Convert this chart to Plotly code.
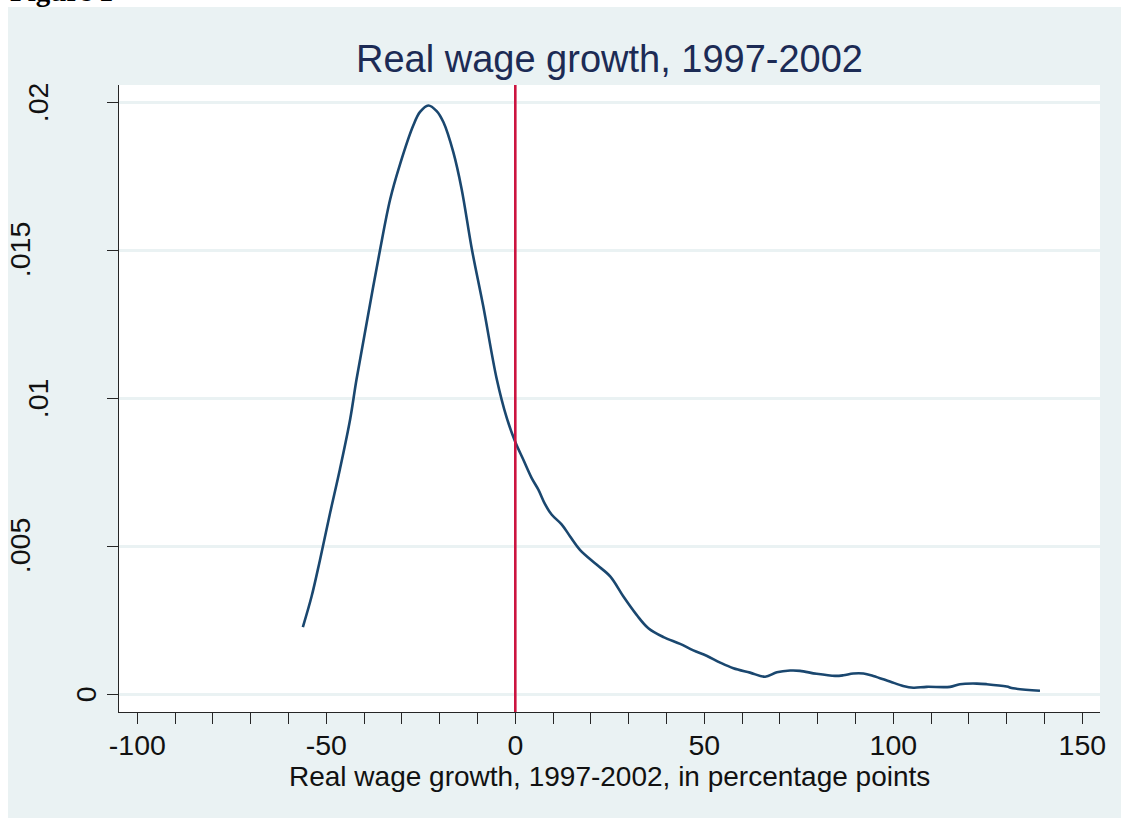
import plotly.graph_objects as go

# ---- data ----
growth = [-56.2, -53.9, -51.7, -49.0, -46.4, -43.7, -42.0, -39.3, -35.8, -33.1,
          -30.5, -27.0, -25.2, -23.0, -20.8, -19.0, -16.4, -14.2, -11.5, -8.5,
          -4.9, -2.3, 0.0, 2.1, 4.3, 6.1, 7.9, 9.6, 12.3, 14.5,
          17.1, 21.5, 25.1, 28.6, 32.1, 35.2, 39.2, 43.6, 47.1, 50.6,
          54.2, 57.7, 62.1, 66.1, 69.2, 72.7, 75.3, 79.7, 84.6, 86.8,
          89.4, 92.1, 94.7, 99.1, 102.6, 105.3, 108.8, 115.0, 117.6, 122.1,
          124.7, 130.0, 131.7, 138.8]
density = [0.00227, 0.00330, 0.00452, 0.00612, 0.00760, 0.00928, 0.01064, 0.01256, 0.01500, 0.01672,
           0.01790, 0.01921, 0.01967, 0.01989, 0.01970, 0.01932, 0.01831, 0.01707, 0.01504, 0.01312,
           0.01064, 0.00935, 0.00852, 0.00793, 0.00731, 0.00691, 0.00641, 0.00607, 0.00573, 0.00533,
           0.00488, 0.00438, 0.00398, 0.00330, 0.00268, 0.00223, 0.00193, 0.00170, 0.00148, 0.00130,
           0.00107, 0.00088, 0.00073, 0.00059, 0.00074, 0.00080, 0.00079, 0.00069, 0.00062, 0.00064,
           0.00070, 0.00070, 0.00062, 0.00043, 0.00028, 0.00022, 0.00025, 0.00025, 0.00034, 0.00036,
           0.00034, 0.00026, 0.00020, 0.00012]
x_ticks = list(range(-100, 151, 10))
x_labels = [str(v) if v % 50 == 0 else "" for v in x_ticks]
y_ticks = [0, 0.005, 0.01, 0.015, 0.02]
y_labels = ["0", ".005", ".01", ".015", ".02"]
ref_line_x = 0
title_text = "Real wage growth, 1997-2002"
xaxis_title = "Real wage growth, 1997-2002, in percentage points"
figure_label = "Figure 1"

# ---- styling ----
W, H = 1121, 818
ML, MR, MT, MB = 119, 21, 85, 106
PW, PH = W - ML - MR, H - MT - MB
BG = "#eaf2f3"
AX = "#262626"
FONT = "Liberation Sans, Arial, sans-serif"


def px_x(p):  # pixel -> paper x
    return (p - ML) / PW


def px_y(p):  # pixel -> paper y
    return (H - MB - p) / PH


fig = go.Figure()
fig.add_trace(go.Scatter(x=growth, y=density, mode="lines",
                         line=dict(color="#1a476f", width=2.6, shape="spline", smoothing=1.0),
                         hoverinfo="skip", showlegend=False))

shapes = [
    # white strips outside the Stata background panel
    dict(type="rect", xref="paper", yref="paper", x0=px_x(0), x1=px_x(8), y0=px_y(H), y1=px_y(0),
         fillcolor="white", line=dict(width=0), layer="below"),
    dict(type="rect", xref="paper", yref="paper", x0=px_x(0), x1=px_x(W), y0=px_y(7), y1=px_y(0),
         fillcolor="white", line=dict(width=0), layer="below"),
    # reference line
    dict(type="line", xref="x", yref="paper", x0=ref_line_x, x1=ref_line_x, y0=0, y1=1,
         line=dict(color="#cc1440", width=2.6), layer="above"),
]

annotations = []
for v, t in zip(y_ticks, y_labels):
    cx = max(121 - 24 * len(t) - 11, 20)
    annotations.append(dict(x=px_x(cx), xref="paper", y=v, yref="y", text=t, textangle=-90,
                            showarrow=False, xanchor="center", yanchor="middle",
                            font=dict(family=FONT, size=28.5, color="#111111")))
annotations.append(dict(x=0.5, xref="paper", y=px_y(776), yref="paper", text=xaxis_title,
                        showarrow=False, xanchor="center", yanchor="middle",
                        font=dict(family=FONT, size=28, color="#111111")))
annotations.append(dict(x=px_x(8), xref="paper", y=px_y(9), yref="paper", text="<b>%s</b>" % figure_label,
                        showarrow=False, xanchor="left", yanchor="bottom",
                        font=dict(family="Liberation Serif, Times New Roman, serif", size=29, color="#000000")))

fig.update_layout(
    width=W, height=H,
    margin=dict(l=ML, r=MR, t=MT, b=MB, autoexpand=False),
    paper_bgcolor=BG, plot_bgcolor="white",
    font=dict(family=FONT, color="#111111"),
    title=dict(text=title_text, x=0.5, xref="paper", xanchor="center",
               y=1 - 59 / H, yref="container", yanchor="middle",
               font=dict(family=FONT, size=38, color="#1c2b55")),
    shapes=shapes, annotations=annotations,
    xaxis=dict(range=[-104.84, 154.68], tickmode="array", tickvals=x_ticks, ticktext=x_labels,
               ticks="outside", ticklen=11, tickwidth=1.3, tickcolor=AX,
               showline=True, linecolor=AX, linewidth=1.3, showgrid=False, zeroline=False,
               ticklabelstandoff=-3,
               tickfont=dict(family=FONT, size=28.5, color="#111111")),
    yaxis=dict(range=[-0.0006, 0.02058], tickmode="array", tickvals=y_ticks, showticklabels=False,
               ticks="outside", ticklen=11, tickwidth=1.3, tickcolor=AX,
               showline=True, linecolor=AX, linewidth=1.3,
               showgrid=True, gridcolor=BG, gridwidth=2.5, zeroline=False),
)

fig.write_html("out.html")
